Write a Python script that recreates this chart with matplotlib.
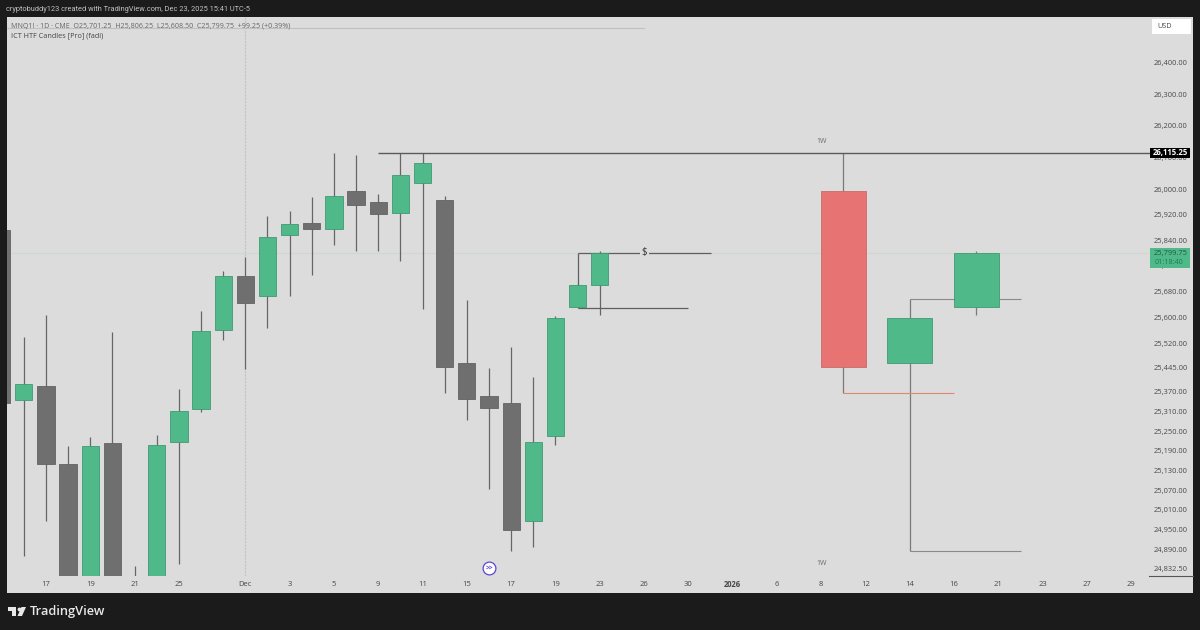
import matplotlib
matplotlib.use("Agg")
import matplotlib.pyplot as plt
from matplotlib.patches import Rectangle, Polygon
from matplotlib.ticker import NullLocator

plt.rcParams['font.family'] = ['Open Sans', 'DejaVu Sans']

# daily candles, index 0 is Nov 17
bar_idx = list(range(-2, 26))
opens = [25871, 25344, 25389, 25150, 24790, 25214, 24790, 24785, 25217, 25316.5, 25560.5, 25728.5, 25666, 25856,
         25893.5, 25875, 25994, 25960, 25925.5, 26019.5, 25966, 25459, 25356, 25335, 24978, 25235.5, 25632, 25701.25]
highs = [25890, 25538.5, 25607, 25205, 25232.5, 25554, 24841.5, 25238.5, 25380, 25619.5, 25744, 25787.5, 25916, 25932,
         25975, 26115, 26108.5, 25984.5, 26115.25, 26115.25, 25978.5, 25654, 25444, 25507.5, 25416.5, 25604, 25703, 25806.25]
lows = [25300, 24871.5, 24977, 24760, 24770, 24760, 24765, 24770, 24847.5, 25307.5, 25529.5, 25441, 25566.5, 25666,
        25731.5, 25825, 25806.5, 25806.5, 25775, 25626, 25365, 25283.5, 25074, 24886.5, 24898.5, 25208, 25630, 25608.5]
closes = [25335, 25395, 25150, 24780, 25205, 24775, 24770, 25208, 25310.5, 25557, 25728.5, 25644.5, 25850, 25891,
          25875, 25978.5, 25950.5, 25922, 26044.7, 26082.5, 25447, 25347, 25319.5, 24950, 25217, 25597.5, 25700.5, 25799.75]

# weekly candles on the right
htf_idx = [36, 39, 42]
htf_opens = [25994, 25459, 25632]
htf_highs = [26115.25, 25657, 25806.25]
htf_lows = [25365, 24886.5, 25608.5]
htf_closes = [25447, 25597.5, 25799.75]

price_ticks = [26400, 26300, 26200, 26100, 26000, 25920, 25840, 25760, 25680, 25600, 25520, 25445, 25370,
               25310, 25250, 25190, 25130, 25070, 25010, 24950, 24890, 24832.5]
time_idx = [0, 2, 4, 6, 9, 11, 13, 15, 17, 19, 21, 23, 25, 27, 29, 31, 33, 35, 37, 39, 41, 43, 45, 47, 49]
time_labels = ['17', '19', '21', '25', 'Dec', '3', '5', '9', '11', '15', '17', '19', '23', '26', '30', '2026',
               '6', '8', '12', '14', '16', '21', '23', '27', '29']

high_level = 26115.25
last_price = 25799.75

BG = '#1b1b1b'
PANEL = '#dcdcdc'
GREEN = '#50b98a'
GREEN_EDGE = '#3f9a72'
GREY = '#6f6f6f'
RED = '#e77373'
WICK = '#666666'
LABEL = '#484848'


def fx(x):
    return x / 1200


def fy(y):
    return 1 - y / 630


fig = plt.figure(figsize=(12, 6.3), dpi=100, facecolor=BG)
fig.add_artist(Rectangle((fx(6.5), fy(593)), fx(1186.5), 576.5 / 630, transform=fig.transFigure,
                         facecolor=PANEL, edgecolor='none', zorder=0))

ax = fig.add_axes([fx(7), fy(576), fx(1143), 559 / 630])
ax.patch.set_alpha(0)
for s in ax.spines.values():
    s.set_visible(False)

ax.set_yscale('log')
ax.set_xlim(-1.76, 49.84)
ax.set_ylim(24811, 26547.3)

# crosshair and last price guides
ax.axvline(9, color='#c2c2c2', lw=0.8, ls=(0, (2, 1)), zorder=1)
ax.axhline(last_price, color='#cdd8d1', lw=0.8, zorder=1)

# daily candles
for i, o, h, l, c in zip(bar_idx, opens, highs, lows, closes):
    col = GREEN if c > o else GREY
    edge = GREEN_EDGE if c > o else '#636363'
    ax.vlines(i, l, h, color=WICK, lw=0.9, zorder=2)
    ax.bar(i, abs(c - o), bottom=min(o, c), width=0.78, color=col, edgecolor=edge, lw=0.6, zorder=3)

# weekly candles
for i, o, h, l, c in zip(htf_idx, htf_opens, htf_highs, htf_lows, htf_closes):
    col = GREEN if c > o else RED
    edge = '#3f9a72' if c > o else '#c96a6a'
    ax.vlines(i, l, h, color='#7a7a7a', lw=0.9, zorder=2)
    ax.bar(i, abs(c - o), bottom=min(o, c), width=2.03, color=col, edgecolor=edge, lw=0.6, zorder=3)

# levels
ax.hlines(high_level, 15, 49.84, color='#5a5a5a', lw=1.0, zorder=2)
ax.hlines(25800, 24, 30, color='#5f5f5f', lw=0.9, zorder=2)
ax.vlines(24, 25700, 25800, color='#5f5f5f', lw=0.9, zorder=2)
ax.hlines(25629, 24, 29, color='#5f5f5f', lw=0.9, zorder=2)
ax.hlines(htf_lows[0], 36, 41, color='#e28672', lw=0.8, zorder=2)
ax.hlines(25657, 39, 44, color='#8a8a8a', lw=0.8, zorder=2)
ax.hlines(htf_lows[1], 39, 44, color='#8a8a8a', lw=0.8, zorder=2)

ax.text(27, 25800, '$', ha='center', va='center', fontsize=7, color='#333333', zorder=4,
        bbox=dict(facecolor=PANEL, edgecolor='none', pad=1.2))
ax.text(35, 26150, '1W', ha='center', va='center', fontsize=5, color='#6a6a6a')
ax.text(35, 24850, '1W', ha='center', va='center', fontsize=5, color='#6a6a6a')

# session break icon
ax.plot(20, 24835, 'o', ms=9.2, mfc='white', mec='#5b45d0', mew=0.9, zorder=5, clip_on=False)
ax.text(20, 24835, '>>', ha='center', va='center', fontsize=4.8, fontweight='bold', color='#5b45d0', zorder=6)

# axes
ax.yaxis.tick_right()
ax.set_yticks(price_ticks, [f'{v:,.2f}' for v in price_ticks])
ax.yaxis.set_minor_locator(NullLocator())
ax.set_xticks(time_idx, time_labels)
ax.tick_params(axis='y', length=0, pad=3, labelsize=5.4, labelcolor=LABEL)
ax.tick_params(axis='x', length=0, pad=5.8, labelsize=5.5, labelcolor=LABEL)
for t in ax.get_xticklabels():
    t.set_va('center')
ax.get_xticklabels()[time_labels.index('2026')].set_fontweight('bold')

# price boxes on the scale
fig.add_artist(Rectangle((fx(1150), fy(158)), fx(40), 10 / 630, transform=fig.transFigure,
                         facecolor='black', edgecolor='none', zorder=5))
fig.text(fx(1170.5), fy(153), f'{high_level:,.2f}', color='white', fontsize=5.6, fontweight='bold',
         ha='center', va='center', zorder=6)
fig.add_artist(Rectangle((fx(1150), fy(268)), fx(40), 20 / 630, transform=fig.transFigure,
                         facecolor=GREEN, edgecolor='none', zorder=5))
fig.text(fx(1170.5), fy(253.5), f'{last_price:,.2f}', color='#1f5a40', fontsize=5.4, ha='center', va='center', zorder=6)
fig.text(fx(1169), fy(262), '01:18:40', color='#1f7a52', fontsize=5.2, ha='center', va='center', zorder=6)
fig.add_artist(Rectangle((fx(1152), fy(34)), fx(39), 15 / 630, transform=fig.transFigure,
                         facecolor='white', edgecolor='none', zorder=5))
fig.text(fx(1157), fy(26.5), 'USD', color=LABEL, fontsize=5.2, ha='left', va='center', zorder=6)
fig.add_artist(plt.Line2D([fx(1149), fx(1193)], [fy(575.7), fy(575.7)], color='#555555', lw=0.8,
                          transform=fig.transFigure))

# header and legend
fig.text(fx(6), fy(9.5), 'cryptobuddy123 created with TradingView.com, Dec 23, 2025 15:41 UTC-5',
         color='#c2c2c2', fontsize=5.35, family=['Roboto', 'DejaVu Sans'], ha='left', va='center')
fig.text(fx(11), fy(26), 'MNQ1! · 1D · CME  O25,701.25  H25,806.25  L25,608.50  C25,799.75  +99.25 (+0.39%)',
         color='#666666', fontsize=5.1, ha='left', va='center')
fig.add_artist(plt.Line2D([fx(7), fx(644)], [fy(28.3), fy(28.3)], color='#bcc4bf', lw=0.8,
                          transform=fig.transFigure))
fig.text(fx(11), fy(36), 'ICT HTF Candles [Pro] (fadi)', color='#444444', fontsize=5.2, ha='left', va='center')

# logo
logo = '#e8e8e8'
fig.add_artist(Polygon([(fx(8), fy(607)), (fx(16), fy(607)), (fx(16), fy(616)), (fx(12), fy(616)),
                        (fx(12), fy(611)), (fx(8), fy(611))], transform=fig.transFigure, facecolor=logo, edgecolor='none'))
fig.add_artist(plt.Line2D([fx(18.6)], [fy(609)], marker='o', ms=2.8, mfc=logo, mec='none',
                          transform=fig.transFigure))
fig.add_artist(Polygon([(fx(21.5), fy(607)), (fx(26), fy(607)), (fx(22), fy(616)), (fx(17.5), fy(616))],
                       transform=fig.transFigure, facecolor=logo, edgecolor='none'))
fig.text(fx(30), fy(612), 'TradingView', color=logo, fontsize=9.3, fontweight='semibold', ha='left', va='center')

fig.savefig('out.png', dpi=100, facecolor=BG)
